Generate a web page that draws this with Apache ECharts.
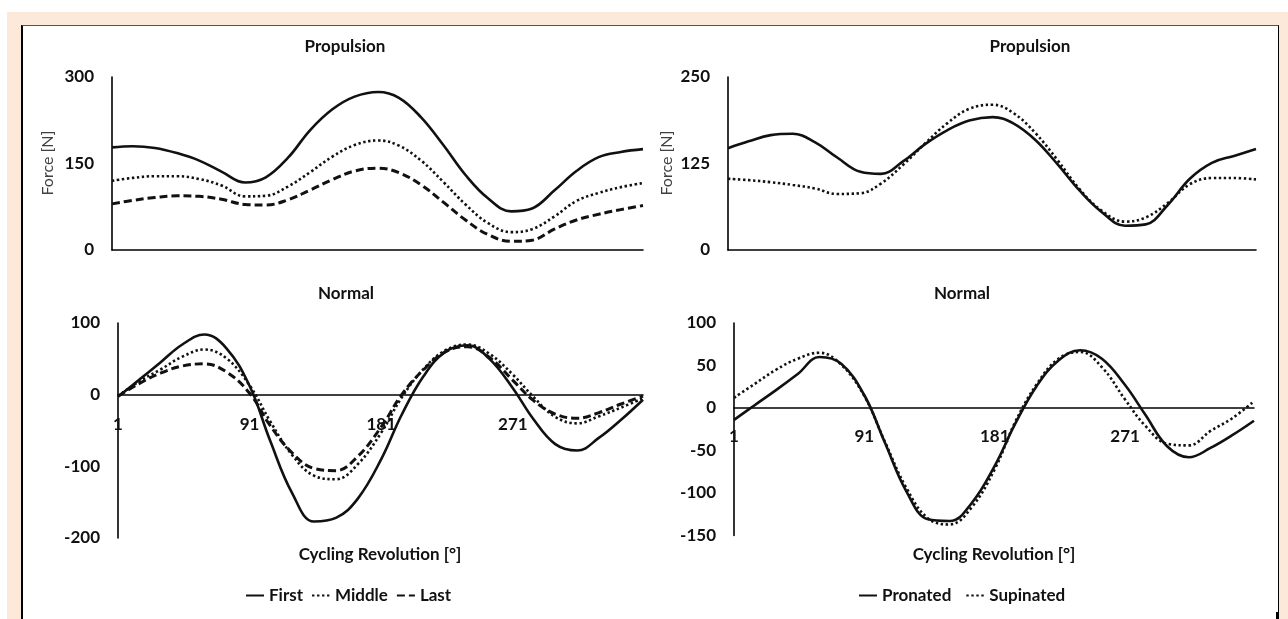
<!DOCTYPE html>
<html><head><meta charset="utf-8">
<script src="https://cdn.jsdelivr.net/npm/echarts@6/dist/echarts.min.js"></script>
<style>
html,body{margin:0;padding:0;width:1288px;height:619px;overflow:hidden;background:#fff;}
#peach{position:absolute;left:7px;top:12px;width:1281px;height:607px;background:#fce9da;}
#panel{position:absolute;left:21px;top:25px;width:1255px;height:594px;background:#fff;border-left:2px solid #000;border-top:1px solid #555;border-right:1px solid #000;}
#mark{position:absolute;left:1276px;top:612px;width:3px;height:7px;background:#000;}
#chart{position:absolute;left:0;top:0;width:1288px;height:619px;}
</style></head><body>
<div id="peach"></div><div id="panel"></div><div id="mark"></div><div id="chart"></div>
<script>
// x positions (crank angle, degrees)
const degrees = [1,15,30,45,60,75,91,105,120,135,150,165,181,195,210,225,240,255,271,285,300,315,330,345,360];
const xTickLabels = ['1','91','181','271'];

// Propulsion force [N] - fatigue stages
const propFirst  = [178,180,177,168,155,136,117,126,160,208,244,266,274,264,230,182,130,90,67,72,103,137,161,170,175];
const propMiddle = [120,125,128,128,123,112,93,94,110,135,162,182,190,181,155,118,79,47,31,36,58,85,99,109,116];
const propLast   = [80,86,91,94,93,88,79,78,87,104,122,137,142,134,113,83,52,27,15,17,36,52,62,70,77];
// Propulsion force [N] - foot type
const propPronated  = [147,157,166,168,156,134,113,110,128,153,173,187,192,183,159,124,86,55,35,37,65,103,126,136,146];
const propSupinated = [103,101,98,94,89,81,82,96,123,154,183,204,210,198,169,130,88,57,41,47,68,95,104,104,102];

// Normal force [N] - fatigue stages
const normFirst  = [-3,20,45,70,84,65,12,-64,-137,-177,-172,-145,-90,-28,26,60,69,50,9,-34,-69,-78,-60,-35,-7];
const normMiddle = [-2,18,35,53,63,51,13,-37,-84,-113,-118,-97,-53,-4,36,62,70,57,28,-3,-31,-40,-30,-18,-5];
const normLast   = [-2,15,30,40,43,32,2,-43,-81,-103,-106,-86,-45,0,35,60,67,52,20,-8,-27,-33,-25,-13,-2];
// Normal force [N] - foot type
const normPronated  = [-14,3,21,40,60,52,15,-40,-98,-131,-133,-112,-68,-19,26,56,68,58,27,-8,-45,-58,-47,-32,-15];
const normSupinated = [12,28,45,58,65,51,14,-39,-94,-130,-137,-117,-72,-17,28,58,66,48,10,-21,-42,-44,-27,-12,8];

const FONT = 'Lato';
const INK = '#111';

function pts(vals){ return degrees.map((d,i)=>[d-1, vals[i]]); }

const styles = {
  solid:  {color:INK, width:2.6, type:'solid'},
  dotted: {color:INK, width:2.6, type:[2.4,2.6]},
  dashed: {color:INK, width:3, type:[8,4]}
};

function ser(name, vals, idx, st){
  return {name:name, type:'line', xAxisIndex:idx, yAxisIndex:idx, data:pts(vals),
    smooth:0.4, symbol:'none', lineStyle:Object.assign({}, styles[st]), itemStyle:{color:INK},
    z: st==='solid'?3:2};
}

const grids = [
  {left:112, top:77, width:531, height:173},
  {left:728, top:77, width:528, height:173},
  {left:118, top:323, width:525, height:215},
  {left:734, top:323, width:520, height:212.5}
];

const yRanges = [[0,300,150],[0,250,125],[-200,100,100],[-150,100,50]];
// tick-label offset from grid bottom so labels sit just under the zero line
const xLabelMargin = [0,0,-122,-107];

const labelStyle = {color:INK, fontFamily:FONT, fontWeight:'bold', fontSize:17};

const xAxes = grids.map((g,i)=>({
  gridIndex:i, type:'value', min:0, max:359, interval:90,
  axisLine:{show:true, onZero:true, lineStyle:{color:'#000', width:1.6}},
  axisTick:{show:false}, splitLine:{show:false},
  axisLabel: i<2 ? {show:false} : Object.assign({show:true, margin:xLabelMargin[i], showMaxLabel:false,
     formatter:(v)=>{const k=Math.round(v/90); return xTickLabels[k]!==undefined && v%90===0 ? xTickLabels[k] : '';}}, labelStyle)
}));

const yAxes = yRanges.map((r,i)=>({
  gridIndex:i, type:'value', min:r[0], max:r[1], interval:r[2],
  axisLine:{show:true, onZero:false, lineStyle:{color:'#000', width:1.6}},
  axisTick:{show:false}, splitLine:{show:false},
  axisLabel:Object.assign({margin:18}, labelStyle)
}));

const series = [
  ser('First', propFirst, 0, 'solid'),
  ser('Middle', propMiddle, 0, 'dotted'),
  ser('Last', propLast, 0, 'dashed'),
  ser('Pronated', propPronated, 1, 'solid'),
  ser('Supinated', propSupinated, 1, 'dotted'),
  ser('First', normFirst, 2, 'solid'),
  ser('Middle', normMiddle, 2, 'dotted'),
  ser('Last', normLast, 2, 'dashed'),
  ser('Pronated', normPronated, 3, 'solid'),
  ser('Supinated', normSupinated, 3, 'dotted')
];

function txt(s, x, y, opt){
  return Object.assign({type:'text', x:x, y:y, silent:true,
    style:Object.assign({text:s, fill:INK, font:'bold 17px '+FONT, align:'center', verticalAlign:'middle'}, (opt&&opt.style)||{})},
    (opt&&opt.el)||{});
}

const graphics = [
  txt('Propulsion', 345, 47),
  txt('Propulsion', 1030, 47),
  txt('Normal', 346, 294),
  txt('Normal', 962, 294),
  txt('Cycling Revolution [°]', 380, 555),
  txt('Cycling Revolution [°]', 994, 555),
  txt('Force [N]', 48, 163, {style:{font:'16px '+FONT, fill:'#404040'}, el:{rotation:Math.PI/2}}),
  txt('Force [N]', 667, 163, {style:{font:'16px '+FONT, fill:'#404040'}, el:{rotation:Math.PI/2}})
];

const legendText = {color:INK, fontFamily:FONT, fontWeight:'bold', fontSize:17};
const legendCommon = {top:582, itemWidth:18, itemHeight:12, textStyle:legendText, selectedMode:false,
  itemStyle:{opacity:0, borderWidth:0}};

const chart = echarts.init(document.getElementById('chart'), null, {renderer:'canvas'});
chart.setOption({
  backgroundColor:'transparent',
  animation:false,
  grid:grids,
  xAxis:xAxes,
  yAxis:yAxes,
  legend:[
    Object.assign({data:['First','Middle','Last'], left:240, itemGap:8}, legendCommon),
    Object.assign({data:['Pronated','Supinated'], left:853, itemGap:14}, legendCommon)
  ],
  graphic:graphics,
  series:series
});
</script>
</body></html>
